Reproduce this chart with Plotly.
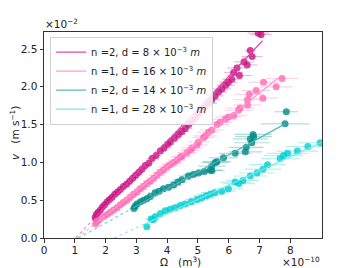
import plotly.graph_objects as go

# ---------------- data (Omega in 1e-10 m^3, v in 1e-2 m/s) ----------------
labels = ["n =2, d = 8 × 10<sup>−3</sup> <i>m</i>",
          "n =1, d = 16 × 10<sup>−3</sup> <i>m</i>",
          "n =2, d = 14 × 10<sup>−3</sup> <i>m</i>",
          "n =1, d = 28 × 10<sup>−3</sup> <i>m</i>"]

mag_x = [1.66,1.70,1.76,1.83,1.90,1.97,2.05,2.13,2.21,2.30,2.39,2.48,2.58,2.68,2.78,2.88,2.98,3.08,3.18,3.29,
         3.40,3.51,3.64,3.78,3.90,4.02,4.10,4.24,4.37,4.48,4.59,4.70,4.81,4.92,5.02,5.13,5.24,5.35,5.45,5.56,
         5.67,5.78,5.90,5.99,6.10,6.16,6.27,6.35,6.50,6.60,6.70,6.76,6.96,7.05]
mag_v = [0.27,0.31,0.34,0.37,0.41,0.44,0.48,0.51,0.54,0.58,0.61,0.64,0.68,0.71,0.75,0.79,0.83,0.87,0.91,0.96,
         0.99,1.05,1.09,1.15,1.19,1.24,1.27,1.32,1.37,1.41,1.45,1.50,1.54,1.59,1.64,1.69,1.74,1.78,1.83,1.88,
         1.93,1.97,2.02,2.06,2.10,2.19,2.25,2.15,2.33,2.29,2.48,2.40,2.71,2.69]
mag_err = [0.08,0.09,0.09,0.09,0.10,0.10,0.10,0.11,0.11,0.12,0.12,0.12,0.13,0.13,0.14,0.14,0.15,0.15,0.16,0.16,
           0.17,0.18,0.18,0.19,0.20,0.20,0.21,0.21,0.22,0.22,0.23,0.24,0.24,0.25,0.25,0.26,0.26,0.27,0.27,0.28,
           0.28,0.29,0.30,0.30,0.31,0.31,0.31,0.40,0.32,0.33,0.18,0.34,0.35,0.35]
mag_line_x = [1.70, 7.10]
mag_line_v = [0.29, 2.61]
mag_dot_x = [1.03, 1.70]
mag_dot_v = [0.00, 0.29]

pink_x = [1.68,1.72,1.80,1.94,2.05,2.15,2.26,2.37,2.48,2.58,2.69,2.80,2.91,3.02,3.13,3.23,3.34,3.45,3.56,3.67,
          3.78,3.88,3.99,4.10,4.21,4.32,4.43,4.48,4.64,4.75,4.81,4.97,5.02,5.18,5.24,5.34,5.45,5.62,5.72,5.89,
          5.99,6.16,6.32,6.37,6.61,6.61,6.67,6.89,7.11,7.13,7.54,7.73]
pink_v = [0.19,0.22,0.24,0.28,0.31,0.34,0.37,0.40,0.44,0.47,0.50,0.54,0.58,0.61,0.65,0.68,0.72,0.75,0.79,0.83,
          0.87,0.90,0.94,0.97,1.00,1.03,1.07,1.08,1.13,1.16,1.19,1.23,1.27,1.33,1.35,1.40,1.43,1.50,1.53,1.57,
          1.60,1.62,1.69,1.72,1.76,1.83,1.90,1.95,1.85,2.06,2.00,2.11]
pink_err = [0.12,0.12,0.13,0.14,0.14,0.15,0.16,0.17,0.17,0.18,0.19,0.20,0.20,0.21,0.22,0.23,0.23,0.24,0.25,0.26,
            0.26,0.27,0.28,0.29,0.29,0.30,0.31,0.31,0.32,0.33,0.34,0.35,0.35,0.36,0.37,0.37,0.38,0.39,0.40,0.41,
            0.42,0.43,0.44,0.45,0.46,0.46,0.47,0.46,0.50,0.50,0.53,0.52]
pink_line_x = [1.70, 7.62]
pink_line_v = [0.20, 2.12]
pink_dot_x = [1.08, 1.70]
pink_dot_v = [0.00, 0.20]

teal_x = [2.92,2.96,3.02,3.13,3.23,3.34,3.45,3.61,3.74,3.88,4.05,4.21,4.35,4.48,4.69,4.85,5.02,5.21,5.40,5.45,
          5.45,5.56,5.62,5.83,6.21,6.54,6.57,6.75,6.70,6.81,6.79,7.83,7.87]
teal_v = [0.39,0.42,0.45,0.48,0.50,0.52,0.55,0.60,0.62,0.65,0.67,0.70,0.74,0.77,0.82,0.84,0.86,0.88,0.90,0.89,
          0.95,1.00,1.01,1.06,1.12,1.14,1.20,1.26,1.31,1.34,1.37,1.51,1.67]
teal_err = [0.15,0.15,0.16,0.17,0.18,0.19,0.20,0.22,0.23,0.25,0.26,0.28,0.29,0.30,0.32,0.34,0.36,0.38,0.40,0.42,
            0.44,0.45,0.46,0.48,0.52,0.55,0.56,0.58,0.57,0.60,0.60,0.79,0.38]
teal_line_x = [2.90, 7.83]
teal_line_v = [0.40, 1.51]
teal_dot_x = [1.12, 2.90]
teal_dot_v = [0.00, 0.40]

cyan_x = [3.34,3.48,3.55,3.61,3.78,3.94,4.10,4.26,4.43,4.59,4.78,4.97,5.12,5.27,5.40,5.54,5.77,5.99,6.21,6.33,
          6.46,6.70,6.92,7.11,7.26,7.67,7.78,7.91,8.23,8.57,8.97]
cyan_v = [0.15,0.25,0.24,0.28,0.32,0.36,0.38,0.40,0.43,0.45,0.48,0.51,0.53,0.56,0.58,0.60,0.62,0.65,0.74,0.72,
          0.76,0.82,0.86,0.91,0.97,1.05,1.09,1.12,1.15,1.21,1.26]
cyan_err = [0.10,0.20,0.20,0.22,0.24,0.26,0.28,0.30,0.32,0.34,0.36,0.38,0.40,0.42,0.43,0.44,0.46,0.48,0.50,0.52,
            0.53,0.55,0.57,0.59,0.60,0.62,0.64,0.66,0.68,0.70,0.72]
cyan_line_x = [3.40, 9.20]
cyan_line_v = [0.21, 1.30]
cyan_dot_x = [2.28, 3.40]
cyan_dot_v = [0.00, 0.21]

x_ticks = [0, 1, 2, 3, 4, 5, 6, 7, 8]
y_ticks = [0.0, 0.5, 1.0, 1.5, 2.0, 2.5]

# ---------------- styling ----------------
FONT = "DejaVu Sans"
series = [
    (mag_x, mag_v, mag_err, mag_line_x, mag_line_v, mag_dot_x, mag_dot_v, (199, 21, 133)),
    (pink_x, pink_v, pink_err, pink_line_x, pink_line_v, pink_dot_x, pink_dot_v, (255, 105, 180)),
    (teal_x, teal_v, teal_err, teal_line_x, teal_line_v, teal_dot_x, teal_dot_v, (0, 139, 139)),
    (cyan_x, cyan_v, cyan_err, cyan_line_x, cyan_line_v, cyan_dot_x, cyan_dot_v, (0, 206, 209)),
]
line_cols = ["rgba(224,64,160,0.95)", "rgba(255,150,200,0.95)", "rgba(80,180,180,0.95)", "rgba(110,232,232,0.95)"]

def rgba(c, a):
    return "rgba(%d,%d,%d,%.2f)" % (c[0], c[1], c[2], a)

fig = go.Figure()
for i, (x, v, e, lx, lv, dx, dv, c) in enumerate(series):
    fig.add_trace(go.Scatter(
        x=x, y=v, mode="markers", showlegend=False,
        marker=dict(size=7, color=rgba(c, 0.8), line=dict(width=0)),
        error_x=dict(type="data", array=e, visible=True, color=rgba(c, 0.3), thickness=1.2, width=0),
    ))
for i, (x, v, e, lx, lv, dx, dv, c) in enumerate(series):
    fig.add_trace(go.Scatter(x=dx, y=dv, mode="lines", showlegend=False,
                             line=dict(color=rgba(c, 0.45), width=1.2, dash="dot")))
    fig.add_trace(go.Scatter(x=lx, y=lv, mode="lines", name=labels[i], showlegend=True,
                             line=dict(color=line_cols[i], width=1.3)))

# page body has an 8px margin: figure is sized/offset to compensate
fig.update_layout(
    width=349, height=260,
    margin=dict(l=36, r=35, t=24, b=30),
    paper_bgcolor="white", plot_bgcolor="white",
    font=dict(family=FONT, size=10.5, color="#222"),
    showlegend=True,
    legend=dict(x=0.022, y=0.978, xanchor="left", yanchor="top",
                bgcolor="rgba(255,255,255,0.85)", bordercolor="#d0d0d0", borderwidth=1,
                font=dict(family=FONT, size=10, color="#222"),
                tracegroupgap=0, itemwidth=30),
    xaxis=dict(range=[0, 9.03], tickvals=x_ticks, ticktext=[str(t) for t in x_ticks],
               showgrid=False, zeroline=False, showline=True, linecolor="#333", linewidth=1,
               mirror=True, ticks="outside", ticklen=3.5, tickcolor="#333", ticklabelstandoff=-1,
               tickfont=dict(family=FONT, size=10.5, color="#222")),
    yaxis=dict(range=[0, 2.725], tickvals=y_ticks, ticktext=["%.1f" % t for t in y_ticks],
               showgrid=False, zeroline=False, showline=True, linecolor="#333", linewidth=1,
               mirror=True, ticks="outside", ticklen=3.5, tickcolor="#333",
               tickfont=dict(family=FONT, size=10.5, color="#222")),
    annotations=[
        dict(text="Ω   (m<sup>3</sup>)", xref="paper", yref="paper", x=0.49, y=0, yshift=-23,
             xanchor="center", yanchor="middle", showarrow=False,
             font=dict(family=FONT, size=10.5, color="#222")),
        dict(text="<i>v</i>   (m s<sup>−1</sup>)", xref="paper", yref="paper", x=0, xshift=-29, y=0.51,
             xanchor="center", yanchor="middle", showarrow=False, textangle=-90,
             font=dict(family=FONT, size=10.5, color="#222")),
        dict(text="×10<sup>−2</sup>", xref="paper", yref="paper", x=0, y=1, xshift=-1,
             xanchor="left", yanchor="bottom", showarrow=False,
             font=dict(family=FONT, size=10.5, color="#222")),
        dict(text="×10<sup>−10</sup>", xref="paper", yref="paper", x=1, y=0, yshift=-23,
             xanchor="right", yanchor="middle", showarrow=False,
             font=dict(family=FONT, size=10.5, color="#222")),
    ],
)

fig.write_html("out.html")
